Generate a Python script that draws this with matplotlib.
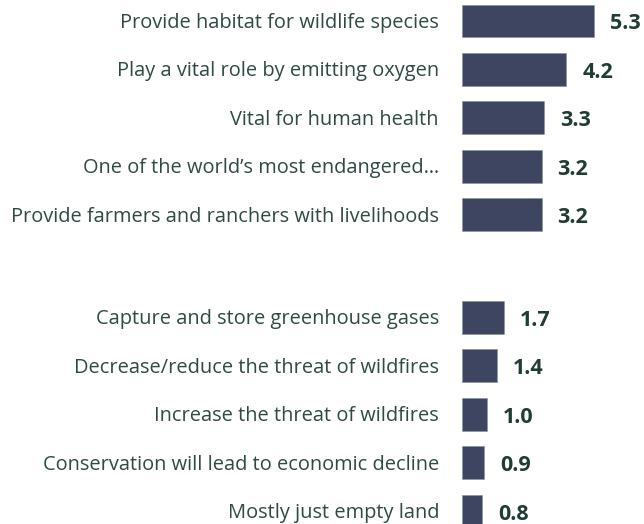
import matplotlib
matplotlib.use("Agg")
import matplotlib.pyplot as plt
import numpy as np

group1_labels = [
    "Provide habitat for wildlife species",
    "Play a vital role by emitting oxygen",
    "Vital for human health",
    "One of the world\u2019s most endangered\u2026",
    "Provide farmers and ranchers with livelihoods",
]
group1_values = [5.3, 4.2, 3.3, 3.2, 3.2]

group2_labels = [
    "Capture and store greenhouse gases",
    "Decrease/reduce the threat of wildfires",
    "Increase the threat of wildfires",
    "Conservation will lead to economic decline",
    "Mostly just empty land",
]
group2_values = [1.7, 1.4, 1.0, 0.9, 0.8]

BAR_COLOR = "#3d4560"
LABEL_COLOR = "#2f4a45"
VALUE_COLOR = "#1f3d33"
FONT = "Open Sans"

gap = 1.126
pos1 = np.arange(len(group1_values))
pos2 = np.arange(len(group2_values)) + len(group1_values) + gap
positions = np.concatenate([pos1, pos2])
labels = group1_labels + group2_labels
values = group1_values + group2_values

fig = plt.figure(figsize=(6.44, 5.24), dpi=100)
ax = fig.add_axes([462 / 644, 0, 1 - 462 / 644, 1])
ax.barh(positions, values, height=0.68, color=BAR_COLOR, edgecolor="#8a90a0", linewidth=0.4)
ax.set_xlim(0, 182 / 24.87)
ax.set_ylim(524 / 48.4 - 21 / 48.4, -21 / 48.4)
ax.axis("off")

for p, v, lab in zip(positions, values, labels):
    ax.annotate(lab, xy=(0, p), xytext=(-23, -2), textcoords="offset pixels",
                ha="right", va="center", fontsize=14.4, color=LABEL_COLOR, family=FONT)
    ax.annotate(f"{v:.1f}", xy=(v, p), xytext=(16, -3), textcoords="offset pixels",
                ha="left", va="center", fontsize=15.5, fontweight="bold", color=VALUE_COLOR, family=FONT)

fig.savefig("out.png", dpi=100)
